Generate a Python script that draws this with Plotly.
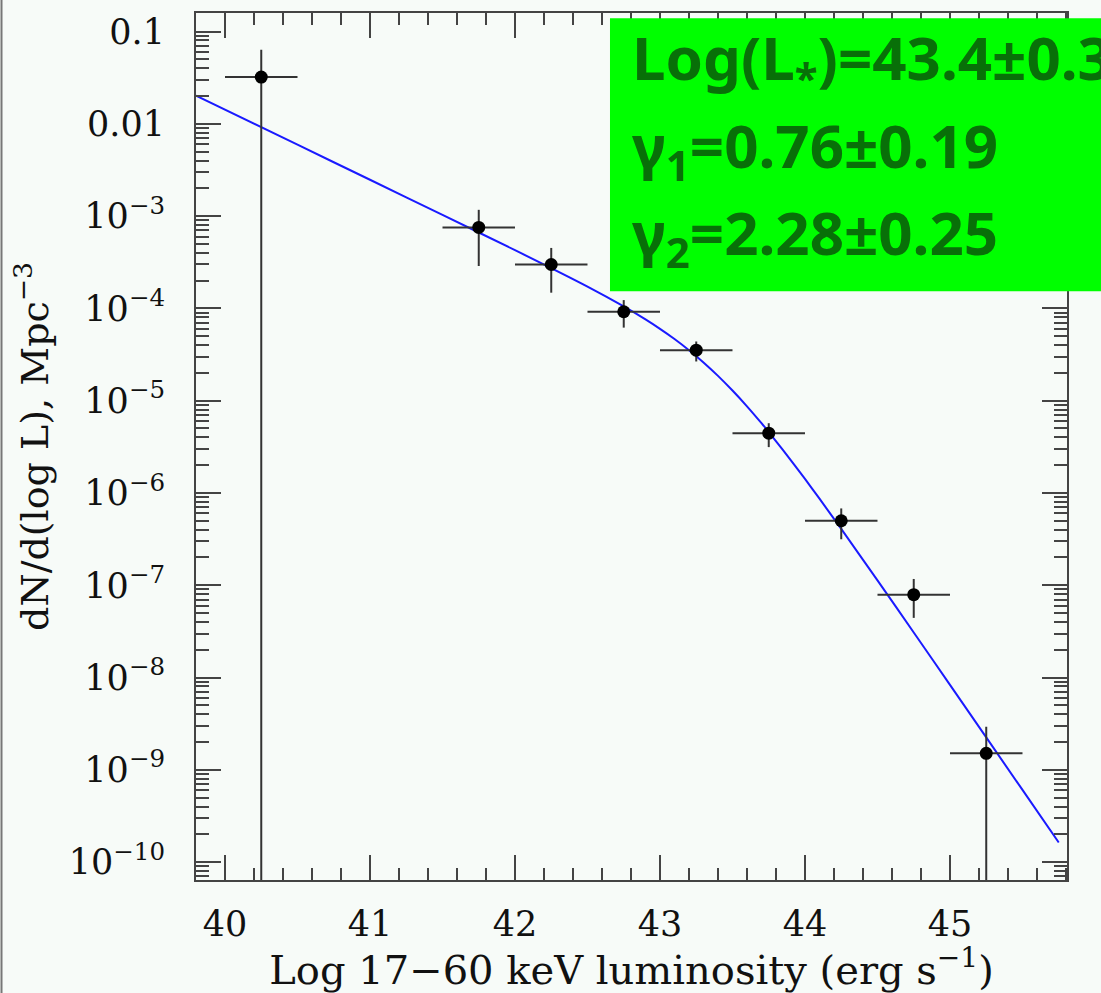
import plotly.graph_objects as go

# ---- data ----
log_l = [40.25, 41.75, 42.25, 42.75, 43.25, 43.75, 44.25, 44.75, 45.25]
phi = [3.21e-2, 7.55e-4, 2.99e-4, 9.2e-5, 3.53e-5, 4.45e-6, 5.0e-7, 7.9e-8, 1.51e-9]
phi_hi = [6.34e-2, 1.17e-3, 4.52e-4, 1.23e-4, 4.38e-5, 5.7e-6, 6.8e-7, 1.17e-7, 2.92e-9]
phi_lo = [1e-12, 2.88e-4, 1.48e-4, 6.19e-5, 2.66e-5, 3.14e-6, 3.15e-7, 4.43e-8, 1e-12]
bin_half = [0.25, 0.25, 0.25, 0.25, 0.25, 0.25, 0.25, 0.25, 0.25]

fit_x = [39.8, 40.5, 41.0, 41.5, 42.0, 42.5, 42.75, 42.9, 43.0, 43.1, 43.2, 43.25,
         43.3, 43.4, 43.5, 43.6, 43.7, 43.75, 43.85, 44.0, 44.1, 44.25, 44.5, 44.75,
         45.0, 45.5, 45.75]
fit_logy = [-1.694, -2.226, -2.606, -2.987, -3.369, -3.764, -3.979, -4.120, -4.222,
            -4.332, -4.453, -4.518, -4.586, -4.731, -4.890, -5.061, -5.244, -5.340,
            -5.538, -5.848, -6.062, -6.390, -6.947, -7.512, -8.080, -9.218, -9.788]
fit_y = [10 ** v for v in fit_logy]

y_tickvals = [1e-1, 1e-2, 1e-3, 1e-4, 1e-5, 1e-6, 1e-7, 1e-8, 1e-9, 1e-10]
y_ticktext = ["0.1", "0.01", "10<sup>−3</sup>", "10<sup>−4</sup>", "10<sup>−5</sup>",
              "10<sup>−6</sup>", "10<sup>−7</sup>", "10<sup>−8</sup>", "10<sup>−9</sup>",
              "10<sup>−10</sup>"]
x_tickvals = [40, 41, 42, 43, 44, 45]

fit_lines = ["Log(L<sub>*</sub>)=43.4±0.3",
             "γ<sub>1</sub>=0.76±0.19",
             "γ<sub>2</sub>=2.28±0.25"]

err_plus = [h - v for h, v in zip(phi_hi, phi)]
err_minus = [v - l for v, l in zip(phi, phi_lo)]

fig = go.Figure()
fig.add_trace(go.Scatter(x=fit_x, y=fit_y, mode="lines",
                         line=dict(color="#1a1aff", width=2, shape="spline",
                                   smoothing=0.6),
                         showlegend=False, hoverinfo="skip"))
fig.add_trace(go.Scatter(
    x=log_l, y=phi, mode="markers",
    marker=dict(color="black", size=13),
    error_x=dict(type="data", array=bin_half, color="#333333", thickness=2, width=0),
    error_y=dict(type="data", symmetric=False, array=err_plus, arrayminus=err_minus,
                 color="#333333", thickness=2, width=0),
    showlegend=False))

serif = "DejaVu Serif, Liberation Serif, serif"
axis_common = dict(showline=True, linecolor="#444444", linewidth=2, mirror="ticks",
                   ticks="inside", tickcolor="#444444", tickwidth=2, ticklen=25,
                   showgrid=False, zeroline=False,
                   tickfont=dict(family=serif, size=35, color="#111111"))

minor_y = [m * 10.0 ** e for e in range(-11, 0) for m in range(2, 10)]

fig.update_xaxes(range=[39.80, 45.807], tickmode="array", tickvals=x_tickvals,
                 ticklabelstandoff=12,
                 minor=dict(ticks="inside", ticklen=12, tickwidth=2, tickcolor="#444444",
                            tickmode="linear", tick0=40, dtick=0.2),
                 title=dict(text="Log 17−60 keV luminosity (erg s<sup>−1</sup>)",
                            font=dict(family=serif, size=40, color="#111111"),
                            standoff=10),
                 **axis_common)
fig.update_yaxes(type="log", range=[-10.194, -0.799], tickmode="array",
                 tickvals=y_tickvals, ticktext=y_ticktext, ticklabelstandoff=22,
                 minor=dict(ticks="inside", ticklen=13, tickwidth=2, tickcolor="#444444",
                            tickmode="array", tickvals=minor_y),
                 title=dict(text="dN/d(log L), Mpc<sup>−3</sup>",
                            font=dict(family=serif, size=38, color="#111111"),
                            standoff=8),
                 **axis_common)

# green box with fit parameters
fig.add_shape(type="rect", xref="paper", yref="paper",
              x0=0.4753, x1=1.2, y0=0.679, y1=0.9939,
              fillcolor="#00ff00", line=dict(width=0), layer="above")
# slide border on the left
fig.add_shape(type="line", xref="paper", yref="paper",
              x0=-0.2233, x1=-0.2233, y0=-0.2, y1=1.1,
              line=dict(color="#777777", width=2), layer="above")

for txt, yp in zip(fit_lines, [0.9457, 0.8434, 0.7434]):
    fig.add_annotation(text=txt, xref="paper", yref="paper", x=0.4983, y=yp,
                       xanchor="left", yanchor="middle", showarrow=False,
                       font=dict(family="Noto Sans, DejaVu Sans, sans-serif", size=60,
                                 color="#087008", weight="bold"))

fig.update_layout(width=1101, height=993,
                  margin=dict(l=196, r=34, t=11, b=112),
                  paper_bgcolor="#f7fbf8", plot_bgcolor="#f7fbf8")

fig.write_html("out.html")
